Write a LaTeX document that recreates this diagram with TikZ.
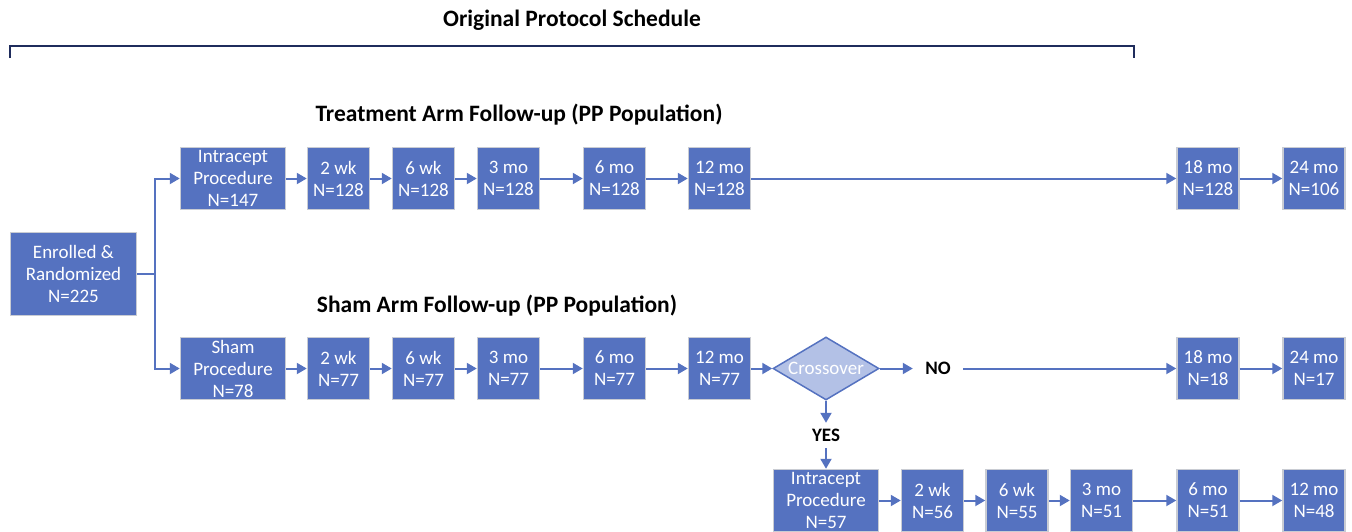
\documentclass[tikz,border=0pt]{standalone}
\usepackage{fontspec}
\setmainfont{Carlito}
\usetikzlibrary{shapes.geometric,arrows.meta}
\definecolor{boxblue}{HTML}{5572C0}
\definecolor{boxedge}{HTML}{C9CCD3}
\definecolor{diafill}{HTML}{B3C1E6}
\definecolor{navy}{HTML}{1F2C5C}
\tikzset{
  stage/.style={rectangle, fill=boxblue, draw=boxedge, line width=1.5pt, text=white,
    minimum width=62pt, minimum height=62pt, inner sep=0pt, align=center,
    font=\fontsize{19}{22}\selectfont},
  widestage/.style={stage, minimum width=105pt},
  decide/.style={diamond, aspect=1.68, fill=diafill, draw=boxblue, line width=1.5pt,
    minimum width=106pt, minimum height=63pt, inner sep=0pt,
    label={[text=white, font=\fontsize{19}{22}\selectfont]center:Crossover}},
  conn/.style={draw=boxblue, line width=2pt, -{Triangle[length=10pt,width=11pt]}},
  plain/.style={draw=boxblue, line width=2pt},
  heading/.style={font=\bfseries\fontsize{23.5}{27}\selectfont, inner sep=0pt},
  answer/.style={font=\bfseries\fontsize{19}{22}\selectfont, inner sep=0pt, minimum height=25pt, minimum width=50pt}
}
\begin{document}
\begin{tikzpicture}[x=1pt,y=-1pt]
\useasboundingbox (0,0) rectangle (1352,531);
% titles
\node[heading] (orig) at (572,20) {Original Protocol Schedule};
\node[heading] (treath) at (519,115) {Treatment Arm Follow-up (PP Population)};
\node[heading] (shamh) at (497,306) {Sham Arm Follow-up (PP Population)};
% bracket
\coordinate (bl) at (10,58);
\coordinate (br) at (1134,58);
\draw[navy, line width=2.5pt] (bl) -- ++(0,-12) -| (br);
% enrolled
\node[stage, minimum width=126pt, minimum height=83pt] (enr) at (73.5,274) {Enrolled \&\\Randomized\\N=225};
% treatment arm
\node[widestage] (tproc) at (233,178.5) {Intracept\\Procedure\\N=147};
\node[stage] (t2w) at (338.5,178.5) {2 wk\\N=128};
\node[stage] (t6w) at (423.5,178.5) {6 wk\\N=128};
\node[stage] (t3m) at (508.5,178.5) {3 mo\\N=128};
\node[stage] (t6m) at (614.5,178.5) {6 mo\\N=128};
\node[stage] (t12m) at (719.5,178.5) {12 mo\\N=128};
\node[stage] (t18m) at (1208,178.5) {18 mo\\N=128};
\node[stage] (t24m) at (1314,178.5) {24 mo\\N=106};
% sham arm
\node[widestage] (sproc) at (233,368.5) {Sham\\Procedure\\N=78};
\node[stage] (s2w) at (338.5,368.5) {2 wk\\N=77};
\node[stage] (s6w) at (423.5,368.5) {6 wk\\N=77};
\node[stage] (s3m) at (508.5,368.5) {3 mo\\N=77};
\node[stage] (s6m) at (614.5,368.5) {6 mo\\N=77};
\node[stage] (s12m) at (719.5,368.5) {12 mo\\N=77};
\node[decide] (cross) at (826,368.5) {};
\node[answer] (no) at (938,368.5) {NO};
\node[stage] (s18m) at (1208,368.5) {18 mo\\N=18};
\node[stage] (s24m) at (1314,368.5) {24 mo\\N=17};
% crossover arm
\node[answer] (yes) at (826,435.5) {YES};
\node[widestage] (cproc) at (826,500.5) {Intracept\\Procedure\\N=57};
\node[stage] (c2w) at (932.5,500.5) {2 wk\\N=56};
\node[stage] (c6w) at (1017,500.5) {6 wk\\N=55};
\node[stage] (c3m) at (1101.5,500.5) {3 mo\\N=51};
\node[stage] (c6m) at (1208,500.5) {6 mo\\N=51};
\node[stage] (c12m) at (1314,500.5) {12 mo\\N=48};
% branch
\coordinate (split) at (155,274);
\draw[plain] (enr.east) -- (split);
\draw[conn] (split) |- (tproc.west);
\draw[conn] (split) |- (sproc.west);
% treatment connectors
\draw[conn] (tproc) -- (t2w);
\draw[conn] (t2w) -- (t6w);
\draw[conn] (t6w) -- (t3m);
\draw[conn] (t3m) -- (t6m);
\draw[conn] (t6m) -- (t12m);
\draw[conn] (t12m) -- (t18m);
\draw[conn] (t18m) -- (t24m);
% sham connectors
\draw[conn] (sproc) -- (s2w);
\draw[conn] (s2w) -- (s6w);
\draw[conn] (s6w) -- (s3m);
\draw[conn] (s3m) -- (s6m);
\draw[conn] (s6m) -- (s12m);
\draw[conn] (s12m) -- (cross);
\draw[conn] (cross) -- (no);
\draw[conn] (no) -- (s18m);
\draw[conn] (s18m) -- (s24m);
% crossover connectors
\draw[conn] (cross) -- (yes);
\draw[conn] (yes) -- (cproc);
\draw[conn] (cproc) -- (c2w);
\draw[conn] (c2w) -- (c6w);
\draw[conn] (c6w) -- (c3m);
\draw[conn] (c3m) -- (c6m);
\draw[conn] (c6m) -- (c12m);
\end{tikzpicture}
\end{document}
